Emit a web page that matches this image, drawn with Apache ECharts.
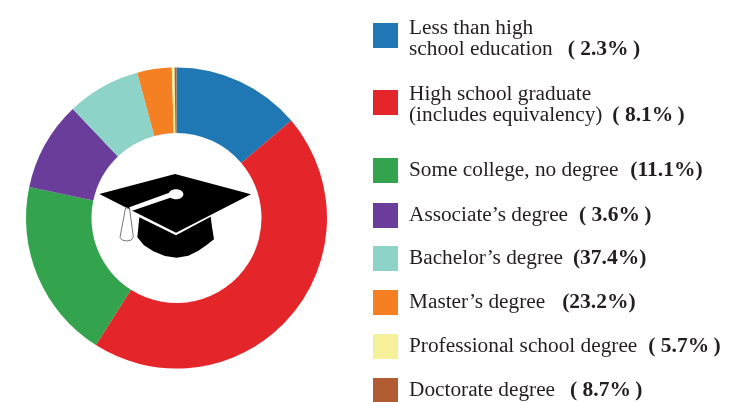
<!DOCTYPE html>
<html><head><meta charset="utf-8">
<style>html,body{margin:0;padding:0;background:#fff}#c{width:740px;height:402px}</style>
<script src="https://cdn.jsdelivr.net/npm/echarts@6/dist/echarts.min.js"></script>
</head><body><div id="c"></div>
<script>
const categories = ["Less than high school education","High school graduate (includes equivalency)","Some college, no degree","Associate's degree","Bachelor's degree","Master's degree","Professional school degree","Doctorate degree"];
const values = [13.8,45.2,19.3,9.6,7.9,3.7,0.3,0.2];
const colors = ["#1f78b4","#e4262b","#33a34d","#6a3d9a","#8dd3c7","#f58024","#f7f09a","#b15c32"];
const labelLines = [
  ["Less than high","school education"],
  ["High school graduate","(includes equivalency)"],
  ["Some college, no degree"],
  ["Associate\u2019s degree"],
  ["Bachelor\u2019s degree"],
  ["Master\u2019s degree"],
  ["Professional school degree"],
  ["Doctorate degree"]
];
const shares = ["( 2.3%\u2009)","( 8.1%\u2009)","(11.1%)","( 3.6%\u2009)","(37.4%)","(23.2%)","( 5.7%\u2009)","( 8.7%\u2009)"];
const shareGaps = [15,10,12,11,10,17,11,15];
const legendTops = [17.5,84,158,203,246,290,334,378];
const textTopPads = [6,5,0,0,0,0,0,0];

const legends = categories.map((name,i)=>{
  const L=labelLines[i];
  return {
  data:[name], left:373, top:legendTops[i], orient:'horizontal', padding:0,
  itemWidth:25, itemHeight:25, icon:'rect', selectedMode:false,
  formatter:()=>{
    const head=L.slice(0,-1).map(s=>`{n|${s}}\n`).join('');
    return `${head}{n|${L[L.length-1]}}{g|}{b|${shares[i]}}`;
  },
  textStyle:{
    fontFamily:'Liberation Serif',color:'#231f20',padding:[textTopPads[i],0,0,6],
    rich:{
      n:{fontFamily:'Liberation Serif',fontSize:21.3,color:'#231f20',lineHeight:21},
      g:{width:shareGaps[i],height:1},
      b:{fontFamily:'Liberation Serif',fontSize:21.5,fontWeight:'bold',color:'#231f20',lineHeight:21}
    }
  }
}});

const artStyle={fill:'#000'};
const art={type:'group',x:90,y:160,scaleX:1/3,scaleY:1/3,children:[
  {type:'polygon',shape:{points:[[148,172],[258,226],[362,170],[366,200],[372,238],[350,255],[325,272],[295,287],[260,293],[225,288],[190,274],[162,256],[142,232]]},style:artStyle},
  {type:'polygon',shape:{points:[[255,42],[483,103],[258,218],[118,148],[28,102]]},style:artStyle},
  {type:'polygon',shape:{points:[[118,142],[246,95],[250,110],[122,154]]},style:{fill:'#fff'}},
  {type:'ellipse',shape:{cx:258,cy:103,rx:22,ry:15},style:{fill:'#fff'}},
  {type:'polygon',shape:{points:[[107,142],[119,148],[130,230],[124,240],[110,243],[96,240],[90,232]]},style:{fill:'#fff',stroke:'#777',lineWidth:3}}
]};

const chart=echarts.init(document.getElementById('c'),null,{renderer:'canvas'});
chart.setOption({
  animation:false,
  backgroundColor:'#fff',
  color:colors,
  legend:legends,
  series:[{
    type:'pie',center:[176.5,218],radius:[85,150.5],startAngle:90,clockwise:true,
    label:{show:false},labelLine:{show:false},silent:true,
    itemStyle:{borderWidth:0},
    data:categories.map((name,i)=>({name,value:values[i]}))
  }],
  graphic:[art]
});
</script></body></html>
